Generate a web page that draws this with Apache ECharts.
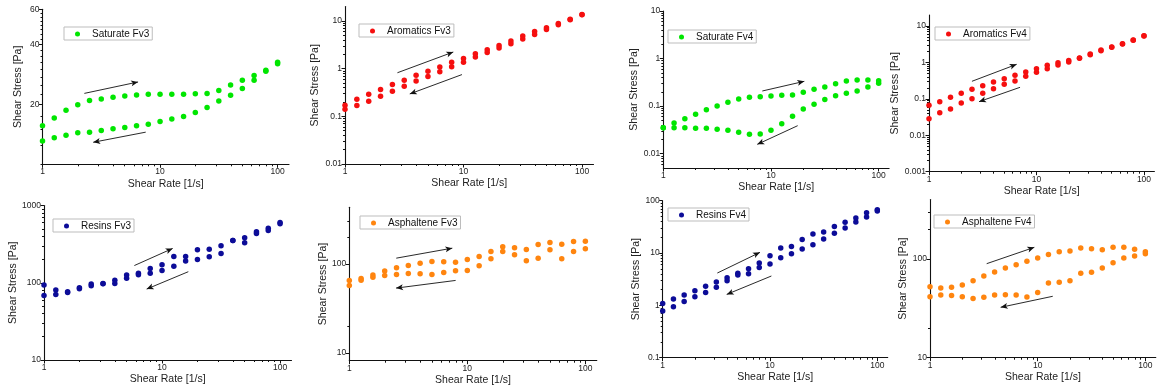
<!DOCTYPE html>
<html><head><meta charset="utf-8">
<script src="https://cdn.jsdelivr.net/npm/echarts@6/dist/echarts.min.js"></script>
<style>html,body{margin:0;padding:0;background:#fff}#c{width:1157px;height:389px}</style>
</head><body><div id="c"></div>
<script>
// ---------- DATA ----------
const shearRate = [1, 1.259, 1.585, 1.995, 2.512, 3.162, 3.981, 5.012, 6.310, 7.943, 10, 12.59, 15.85, 19.95, 25.12, 31.62, 39.81, 50.12, 63.10, 79.43, 100];
const xTickLabels = [1, 10, 100];

const satFv3Up   = [15.6, 17.1, 18.7, 19.9, 20.9, 21.3, 21.7, 22.0, 22.3, 22.5, 22.5, 22.5, 22.5, 22.6, 22.7, 23.5, 25.0, 26.4, 27.9, 29.7, 32.5];
const satFv3Down = [13.1, 13.6, 14.0, 14.4, 14.5, 14.8, 15.1, 15.3, 15.6, 15.9, 16.4, 16.9, 17.4, 18.2, 19.3, 20.8, 22.2, 24.0, 26.4, 29.3, 32.0];
const aroFv3Up   = [0.171, 0.229, 0.290, 0.364, 0.464, 0.570, 0.726, 0.879, 1.08, 1.36, 1.64, 2.06, 2.50, 3.07, 3.79, 4.82, 6.03, 7.19, 8.87, 10.9, 13.7];
const aroFv3Down = [0.141, 0.168, 0.207, 0.264, 0.336, 0.428, 0.552, 0.681, 0.865, 1.10, 1.36, 1.75, 2.19, 2.70, 3.33, 4.17, 5.22, 6.64, 8.32, 10.6, 13.5];
const satFv4Up   = [0.0352, 0.0442, 0.0545, 0.0673, 0.0843, 0.1007, 0.120, 0.141, 0.153, 0.158, 0.163, 0.169, 0.171, 0.195, 0.225, 0.252, 0.297, 0.337, 0.354, 0.354, 0.343];
const satFv4Down = [0.0352, 0.0352, 0.0352, 0.0341, 0.0341, 0.0325, 0.0310, 0.0281, 0.0255, 0.0259, 0.0310, 0.0428, 0.0611, 0.0871, 0.109, 0.137, 0.166, 0.186, 0.208, 0.252, 0.301];
const aroFv4Up   = [0.0664, 0.0836, 0.110, 0.142, 0.182, 0.230, 0.290, 0.358, 0.442, 0.545, 0.673, 0.832, 0.984, 1.12, 1.32, 1.70, 2.19, 2.65, 3.27, 4.13, 5.43];
const aroFv4Down = [0.0285, 0.0417, 0.0526, 0.0769, 0.101, 0.142, 0.190, 0.250, 0.309, 0.415, 0.535, 0.673, 0.849, 1.03, 1.29, 1.63, 2.10, 2.59, 3.20, 4.05, 5.31];
const resFv3Up   = [93.3, 80.4, 76.5, 86.1, 96.1, 98.0, 108, 126, 133, 153, 171, 219, 219, 267, 272, 301, 352, 382, 456, 509, 603];
const resFv3Down = [68.6, 70.6, 75.0, 83.6, 91.4, 97.1, 98.0, 114, 127, 133, 144, 164, 191, 200, 217, 239, 352, 329, 434, 475, 580];
const asphFv3Up   = [65.0, 68.5, 74.7, 82.8, 90.2, 95.8, 101.7, 106.2, 105.3, 104.4, 111.8, 120.8, 137.4, 155.0, 151.0, 144.6, 164.6, 173.4, 166.0, 177.8, 179.4];
const asphFv3Down = [57.2, 65.6, 70.9, 74.0, 76.0, 77.9, 77.3, 76.0, 80.0, 83.5, 84.2, 95.0, 113.8, 137.4, 126.1, 108.1, 115.7, 143.5, 113.8, 137.4, 147.2];
const resFv4Up   = [1.09, 1.32, 1.57, 1.91, 2.31, 2.79, 3.38, 4.09, 5.02, 6.44, 8.89, 12.5, 13.4, 18.2, 23.1, 25.2, 32.3, 38.6, 46.7, 59.0, 67.3];
const resFv4Down = [0.78, 0.944, 1.18, 1.46, 1.77, 2.21, 2.96, 3.80, 4.03, 5.32, 6.17, 8.15, 9.71, 11.9, 14.4, 18.5, 23.8, 30.1, 39.1, 48.7, 63.5];
const asphFv4Up   = [52.4, 50.8, 51.6, 54.5, 60.3, 67.3, 73.8, 81.1, 87.7, 94.7, 102.4, 111.4, 118.6, 120.5, 129.2, 127.3, 124.4, 131.3, 131.3, 125.3, 118.6];
const asphFv4Down = [41.5, 43.2, 42.8, 41.5, 39.9, 40.9, 43.2, 43.5, 43.2, 41.2, 45.9, 57.1, 58.0, 60.3, 71.6, 73.3, 81.1, 91.8, 102.4, 107.2, 113.2];

// y tick labels
const satFv3YTicks = [20, 40, 60];
const satFv3YMinor = [10, 12.5, 15, 17.5, 22.5, 25, 27.5, 30, 32.5, 35, 37.5, 42.5, 45, 47.5, 50, 52.5, 55, 57.5];
const aroFv3YTicks = [0.01, 0.1, 1, 10];
const satFv4YTicks = [0.01, 0.1, 1, 10];
const aroFv4YTicks = [0.001, 0.01, 0.1, 1, 10];
const resFv3YTicks = [10, 100, 1000];
const asphFv3YTicks = [10, 100];
const asphYMinor = [20, 200, 300];
const resFv4YTicks = [0.1, 1, 10, 100];
const asphFv4YTicks = [10, 100];

// arrow annotations [x1, y1, x2, y2] in data units
const satFv3Arrows = [[2.27, 22.7, 6.5, 25.9], [7.55, 14.5, 2.7, 12.9]];
const aroFv3Arrows = [[2.77, 0.82, 8.2, 2.23], [9.7, 0.75, 3.52, 0.295]];
const satFv4Arrows = [[8.31, 0.208, 20.4, 0.332], [17.7, 0.0388, 7.46, 0.0157]];
const aroFv4Arrows = [[2.51, 0.303, 6.54, 0.885], [7.03, 0.207, 2.92, 0.0836]];
const resFv3Arrows = [[5.83, 167, 12.3, 278], [16.7, 139, 7.41, 82.8]];
const asphFv3Arrows = [[2.50, 115.7, 7.46, 149.8], [7.96, 65.1, 2.49, 53.4]];
const resFv4Arrows = [[3.23, 4.15, 8.07, 10.3], [10.3, 3.64, 3.95, 1.62]];
const asphFv4Arrows = [[3.36, 89.7, 9.31, 131.3], [13.8, 41.9, 4.53, 32.4]];

// ---------- BUILD ----------
const L = Math.log10;
const FONT = '"Liberation Sans", Arial, Helvetica, sans-serif';
const X_MIN = 1, X_MAX = 125;
function decadeMinor(lo, hi) {
  const out = [];
  for (let e = Math.floor(L(lo)); e <= Math.ceil(L(hi)); e++) {
    for (let m = 2; m <= 9; m++) { const v = m * Math.pow(10, e); if (v > lo && v < hi) out.push(v); }
  }
  return out;
}
const xMinor = decadeMinor(X_MIN, 100);
const fmt = v => String(parseFloat(Math.pow(10, v).toPrecision(4)));

const panels = [
  {name: 'Saturate Fv3', up: satFv3Up, down: satFv3Down, color: '#00e600', yMin: 10, yMax: 60, yMajor: satFv3YTicks, yMinor: satFv3YMinor, arrows: satFv3Arrows,
   grid: {left: 42.5, top: 9.3, width: 246.5, height: 155}, legend: {left: 64, top: 27}, yGap: 19},
  {name: 'Aromatics Fv3', up: aroFv3Up, down: aroFv3Down, color: '#f50f0f', yMin: 0.01, yMax: 20, yMajor: aroFv3YTicks, yMinor: null, arrows: aroFv3Arrows,
   grid: {left: 345, top: 6.6, width: 248.5, height: 157.4}, legend: {left: 359, top: 24}, yGap: 24},
  {name: 'Saturate Fv4', up: satFv4Up, down: satFv4Down, color: '#00e600', yMin: 0.005, yMax: 10, yMajor: satFv4YTicks, yMinor: null, arrows: satFv4Arrows,
   grid: {left: 663.3, top: 11, width: 225.8, height: 157}, legend: {left: 668, top: 30}, yGap: 20},
  {name: 'Aromatics Fv4', up: aroFv4Up, down: aroFv4Down, color: '#f50f0f', yMin: 0.001, yMax: 20, yMajor: aroFv4YTicks, yMinor: null, arrows: aroFv4Arrows,
   grid: {left: 929, top: 15, width: 225.4, height: 156.7}, legend: {left: 935, top: 27}, yGap: 24},
  {name: 'Resins Fv3', up: resFv3Up, down: resFv3Down, color: '#0c0c98', yMin: 10, yMax: 1000, yMajor: resFv3YTicks, yMinor: null, arrows: resFv3Arrows,
   grid: {left: 44, top: 205.5, width: 247.5, height: 154.5}, legend: {left: 53, top: 219}, yGap: 25},
  {name: 'Asphaltene Fv3', up: asphFv3Up, down: asphFv3Down, color: '#ff850f', yMin: 8.2, yMax: 430, yMajor: asphFv3YTicks, yMinor: asphYMinor, arrows: asphFv3Arrows,
   grid: {left: 349.3, top: 207.3, width: 247.5, height: 153.4}, legend: {left: 360, top: 216}, yGap: 20},
  {name: 'Resins Fv4', up: resFv4Up, down: resFv4Down, color: '#0c0c98', yMin: 0.1, yMax: 100, yMajor: resFv4YTicks, yMinor: null, arrows: resFv4Arrows,
   grid: {left: 662.7, top: 200.7, width: 225, height: 157}, legend: {left: 668, top: 208}, yGap: 18},
  {name: 'Asphaltene Fv4', up: asphFv4Up, down: asphFv4Down, color: '#ff850f', yMin: 10, yMax: 400, yMajor: asphFv4YTicks, yMinor: asphYMinor, arrows: asphFv4Arrows,
   grid: {left: 930, top: 199.6, width: 225.8, height: 158.1}, legend: {left: 934, top: 215}, yGap: 19}
];

const grids = [], xAxes = [], yAxes = [], series = [], legends = [];
const lineCol = '#111';
const tickFont = {fontSize: 8.5, color: '#222', fontFamily: FONT};
panels.forEach((p, i) => {
  grids.push(Object.assign({containLabel: false, outerBoundsMode: 'none'}, p.grid));
  const xr = {min: L(X_MIN), max: L(X_MAX)};
  const yr = {min: L(p.yMin), max: L(p.yMax)};
  xAxes.push(Object.assign({
    gridIndex: i, type: 'value', position: 'bottom',
    axisLine: {show: true, onZero: false, lineStyle: {color: lineCol, width: 1.1}},
    axisTick: {show: true, length: 3.5, customValues: xTickLabels.map(L), lineStyle: {color: lineCol}},
    axisLabel: Object.assign({show: true, customValues: xTickLabels.map(L), formatter: fmt, margin: 3}, tickFont),
    splitLine: {show: false},
    name: 'Shear Rate [1/s]', nameLocation: 'middle', nameGap: 14,
    nameTextStyle: {fontSize: 10.5, color: '#222', fontFamily: FONT}
  }, xr));
  xAxes.push(Object.assign({
    gridIndex: i, type: 'value', position: 'bottom',
    axisLine: {show: false, onZero: false},
    axisTick: {show: true, length: 2, customValues: xMinor.map(L), lineStyle: {color: lineCol}},
    axisLabel: {show: false}, splitLine: {show: false}
  }, xr));
  const yMinorVals = p.yMinor ? p.yMinor : decadeMinor(p.yMin, p.yMax);
  yAxes.push(Object.assign({
    gridIndex: i, type: 'value', position: 'left',
    axisLine: {show: true, onZero: false, lineStyle: {color: lineCol, width: 1.1}},
    axisTick: {show: true, length: 3.5, customValues: p.yMajor.map(L), lineStyle: {color: lineCol}},
    axisLabel: Object.assign({show: true, customValues: p.yMajor.map(L), formatter: fmt, margin: 3}, tickFont),
    splitLine: {show: false},
    name: 'Shear Stress [Pa]', nameLocation: 'middle', nameGap: p.yGap,
    nameTextStyle: {fontSize: 10.5, color: '#222', fontFamily: FONT}
  }, yr));
  yAxes.push(Object.assign({
    gridIndex: i, type: 'value', position: 'left',
    axisLine: {show: false, onZero: false},
    axisTick: {show: true, length: 2, customValues: yMinorVals.map(L), lineStyle: {color: lineCol}},
    axisLabel: {show: false}, splitLine: {show: false}
  }, yr));
  const pts = [];
  shearRate.forEach((x, k) => { pts.push([L(x), L(p.up[k])]); });
  shearRate.forEach((x, k) => { pts.push([L(x), L(p.down[k])]); });
  series.push({
    type: 'scatter', name: p.name, xAxisIndex: 2 * i, yAxisIndex: 2 * i,
    data: pts, symbol: 'circle', symbolSize: 5.5,
    itemStyle: {color: p.color, opacity: 1}, emphasis: {disabled: true}, silent: true, clip: false,
    markLine: {
      silent: true, animation: false, symbol: ['none', 'arrow'], symbolSize: [4.5, 7],
      lineStyle: {color: lineCol, width: 0.9, type: 'solid', opacity: 1},
      label: {show: false}, emphasis: {disabled: true},
      data: p.arrows.map(a => [{coord: [L(a[0]), L(a[1])]}, {coord: [L(a[2]), L(a[3])]}])
    }
  });
  legends.push({
    data: [p.name], left: p.legend.left, top: p.legend.top, orient: 'horizontal',
    padding: [1, 3, 0, 11], itemWidth: 5, itemHeight: 5, itemGap: 0,
    itemStyle: {opacity: 1},
    borderColor: '#bdbdbd', borderWidth: 1, backgroundColor: '#fff', selectedMode: false,
    textStyle: {fontSize: 10, color: '#111', fontFamily: FONT, lineHeight: 12, padding: [0, 0, 0, 7]}
  });
});

const chart = echarts.init(document.getElementById('c'), null, {renderer: 'canvas'});
chart.setOption({
  animation: false, backgroundColor: '#fff',
  grid: grids, xAxis: xAxes, yAxis: yAxes, series: series, legend: legends
});
</script></body></html>
